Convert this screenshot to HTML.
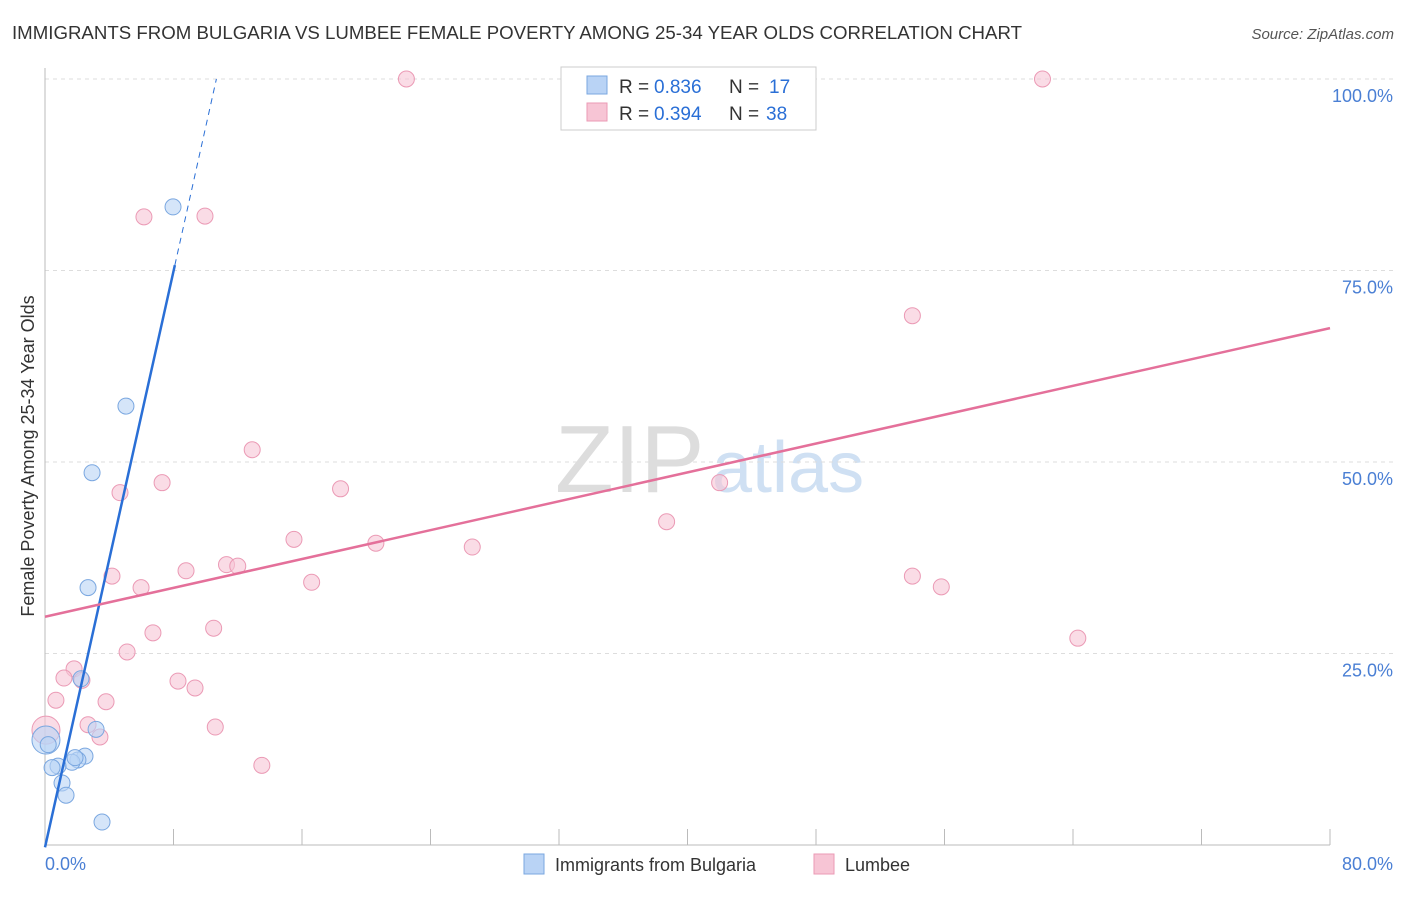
<!DOCTYPE html>
<html><head><meta charset="utf-8"><style>
body{margin:0;background:#fff;font-family:"Liberation Sans",sans-serif}
svg text{font-family:"Liberation Sans",sans-serif}
</style></head><body>
<svg width="1406" height="892" id="c">
<text x="12" y="39" font-size="18" fill="#333" textLength="1010" lengthAdjust="spacingAndGlyphs">IMMIGRANTS FROM BULGARIA VS LUMBEE FEMALE POVERTY AMONG 25-34 YEAR OLDS CORRELATION CHART</text>
<text x="1394" y="39" font-size="15" fill="#555" font-style="italic" text-anchor="end">Source: ZipAtlas.com</text>
<text x="34" y="456" font-size="18" fill="#333" transform="rotate(-90 34 456)" text-anchor="middle">Female Poverty Among 25-34 Year Olds</text>
<text x="555" y="492" font-size="96" fill="#ddd" font-family="Liberation Serif">ZIP</text>
<text x="712" y="492" font-size="72" fill="#cfe0f3">atlas</text>
<g id="grid"></g><g id="marks"></g>
<g>
<rect x="561" y="67" width="255" height="63" fill="#fff" stroke="#ccc"/>
<rect x="587" y="76" width="20" height="18" fill="#b9d3f5" stroke="#7aa7e0"/>
<rect x="587" y="103" width="20" height="18" fill="#f7c5d5" stroke="#eb9ab5"/>
<text y="93" font-size="19" fill="#333"><tspan x="619">R =</tspan><tspan x="654" fill="#2a6fd6">0.836</tspan><tspan x="729">N =</tspan><tspan x="769" fill="#2a6fd6">17</tspan></text>
<text y="120" font-size="19" fill="#333"><tspan x="619">R =</tspan><tspan x="654" fill="#2a6fd6">0.394</tspan><tspan x="729">N =</tspan><tspan x="766" fill="#2a6fd6">38</tspan></text>
</g>
<g>
<rect x="524" y="854" width="20" height="20" fill="#b9d3f5" stroke="#7aa7e0"/>
<text x="555" y="871" font-size="18" fill="#333">Immigrants from Bulgaria</text>
<rect x="814" y="854" width="20" height="20" fill="#f7c5d5" stroke="#eb9ab5"/>
<text x="845" y="871" font-size="18" fill="#333">Lumbee</text>
</g>
</svg>
<script>
const yTicks=[25,50,75,100];
const yTickLabels=["25.0%","50.0%","75.0%","100.0%"];
const xTicks=[0,8,16,24,32,40,48,56,64,72,80];
const blueX=[7.97,5.04,2.93,2.68,2.24,3.18,2.49,2.05,1.68,0.81,0.44,1.06,1.31,3.55,0.06,1.87,0.2];
const blueY=[83.3,57.3,48.6,33.6,21.7,15.1,11.6,11.1,10.8,10.3,10.1,8.1,6.5,3.0,13.7,11.4,13.1];
const pinkX=[22.5,62.1,6.16,9.96,54.0,12.9,7.29,4.67,18.4,42.0,38.7,15.5,20.6,26.6,11.3,12.0,8.78,4.17,54.0,16.6,5.98,55.8,6.72,10.5,64.3,5.11,1.81,1.18,2.30,8.28,9.34,0.68,3.80,2.68,10.6,3.42,13.5,0.06];
const pinkY=[100,100,82.0,82.1,69.1,51.6,47.3,46.0,46.5,47.3,42.2,39.9,39.4,38.9,36.6,36.4,35.8,35.1,35.1,34.3,33.6,33.7,27.7,28.3,27.0,25.2,23.0,21.8,21.5,21.4,20.5,18.9,18.7,15.7,15.4,14.1,10.4,15.0];
const blueLine=[-0.3,9.4];
const pinkLine=[29.8,0.471];
const NS="http://www.w3.org/2000/svg";
const sx=v=>45+v*(1285/80);
const sy=v=>845-v*7.66;
function mk(t,a,p){const e=document.createElementNS(NS,t);for(const k in a)e.setAttribute(k,a[k]);p.appendChild(e);return e;}
const g=document.getElementById('grid'),m=document.getElementById('marks');
yTicks.forEach((t,i)=>{
 const l=mk('line',{x1:45,x2:1393,y1:sy(t),y2:sy(t),stroke:'#ddd','stroke-dasharray':'4,4'},g);
 
 
 const tx=mk('text',{x:1393,y:sy(t)+23,'font-size':18,fill:'#4a7fd4','text-anchor':'end'},g);
 tx.textContent=yTickLabels[i];
 
 
});
mk('line',{x1:45,x2:45,y1:68,y2:845,stroke:'#bbb'},g);
mk('line',{x1:45,x2:1330,y1:845,y2:845,stroke:'#bbb'},g);
xTicks.forEach(t=>{const l=mk('line',{x1:sx(t),x2:sx(t),y1:829,y2:845,stroke:'#bbb'},g);
 
 });
const x0=mk('text',{x:45,y:870,'font-size':18,fill:'#4a7fd4'},g);x0.textContent="0.0%";


const x1=mk('text',{x:1393,y:870,'font-size':18,fill:'#4a7fd4','text-anchor':'end'},g);x1.textContent="80.0%";


function pt(x,y,r,f,s,n){const c=mk('circle',{cx:sx(x),cy:sy(y),r:r,fill:f,'fill-opacity':0.6,stroke:s,'stroke-width':1},m);
 
 }
pinkX.forEach((x,i)=>pt(x,pinkY[i],i==pinkX.length-1?14:8,'#f7c5d5','#eb9ab5','lumbee-point'));
blueX.forEach((x,i)=>pt(x,blueY[i],i==14?14:8,'#b9d3f5','#7aa7e0','bulgaria-point'));
const bEnd=(75.7-blueLine[0])/blueLine[1], bEnd2=(100-blueLine[0])/blueLine[1];
const bl=mk('line',{x1:sx(0),y1:sy(blueLine[0]),x2:sx(bEnd),y2:sy(blueLine[0]+blueLine[1]*bEnd),stroke:'#2a6fd6','stroke-width':2.5},m);


mk('line',{x1:sx(bEnd),y1:sy(blueLine[0]+blueLine[1]*bEnd),x2:sx(bEnd2),y2:sy(100),stroke:'#2a6fd6','stroke-width':1,'stroke-dasharray':'6,5'},m);
const pl=mk('line',{x1:sx(0),y1:sy(pinkLine[0]),x2:sx(80),y2:sy(pinkLine[0]+pinkLine[1]*80),stroke:'#e4709a','stroke-width':2.5},m);


</script>
</body></html>
